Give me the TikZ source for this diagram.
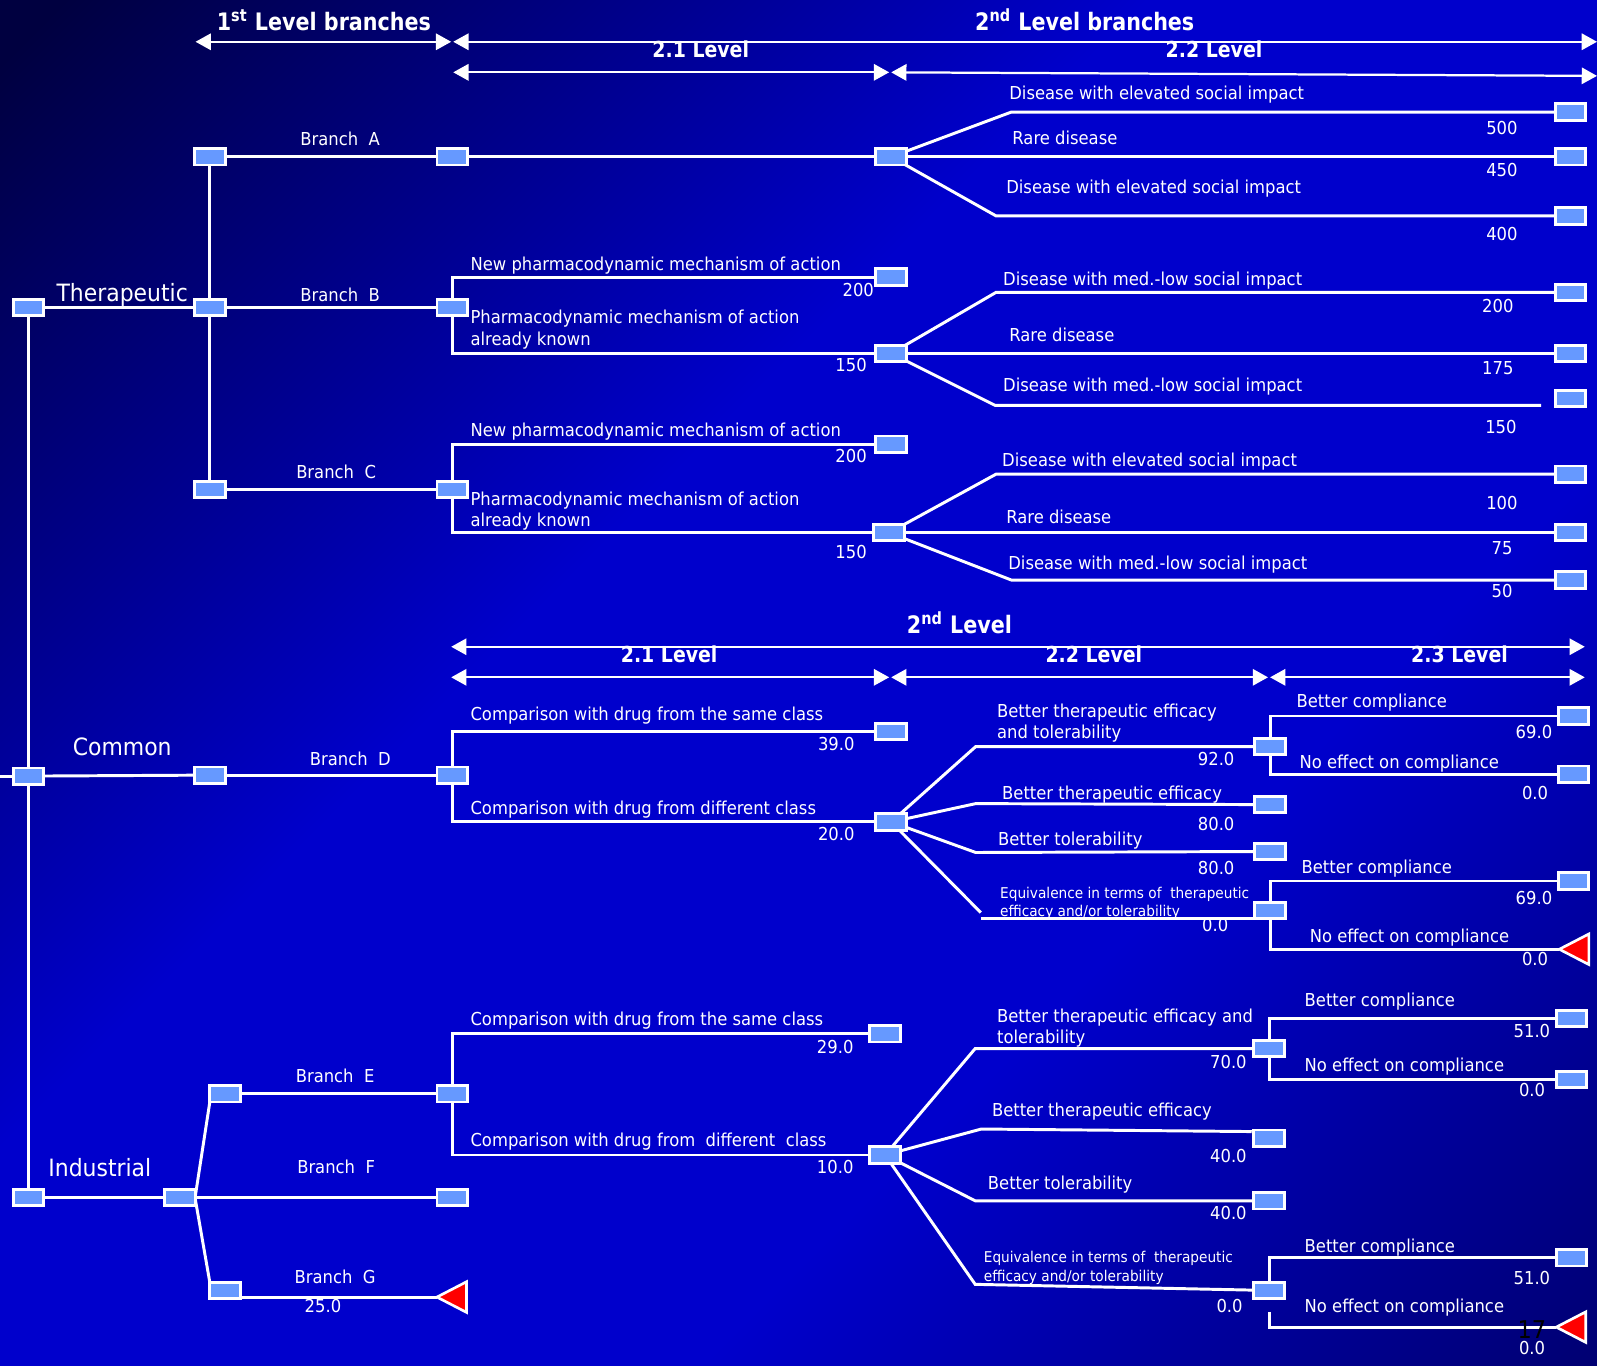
\documentclass[tikz,border=0pt]{standalone}
\usepackage{fontspec}
\setmainfont{DejaVu Sans}[FakeStretch=0.92, BoldFeatures={FakeStretch=0.86}]
\usetikzlibrary{arrows.meta,shapes.geometric,calc}

\definecolor{boxblue}{HTML}{6699FF}
\definecolor{bgdark}{HTML}{000040}
\definecolor{bgbright}{HTML}{0000CC}
\definecolor{bgend}{HTML}{000070}
\definecolor{endred}{HTML}{FF0000}

% diagonal slide background: dark corner, bright middle band, darker far corner
\pgfdeclarehorizontalshading{slidebg}{100bp}{%
  color(0bp)=(bgdark); color(16bp)=(bgdark); color(42bp)=(bgbright);
  color(64bp)=(bgbright); color(86bp)=(bgend); color(100bp)=(bgend)}

\pgfdeclarelayer{back}
\pgfdeclarelayer{wires}
\pgfsetlayers{back,wires,main}

\tikzset{
  every node/.style={text=white, inner sep=0pt, outer sep=0pt},
  nodebox/.style={draw=white, fill=boxblue, line width=1.4pt,
    minimum width=15pt, minimum height=8pt},
  endmark/.style={isosceles triangle, isosceles triangle stretches,
    shape border rotate=180, fill=endred, draw=white, line width=1.3pt,
    minimum width=15pt, minimum height=14.5pt},
  wire/.style={draw=white, line width=1.45pt},
  rangearrow/.style={draw=white, line width=1.1pt,
    arrows={Triangle[width=8pt,length=7.5pt]-Triangle[width=8pt,length=7.5pt]}},
  lbl/.style={anchor=base west, font=\fontsize{8.75}{10}\selectfont},
  val/.style={anchor=base east, font=\fontsize{8.75}{10}\selectfont},
  ctr/.style={anchor=base, font=\fontsize{8.75}{10}\selectfont},
  smalllbl/.style={anchor=base west, font=\fontsize{7.3}{9}\selectfont},
  rootlbl/.style={anchor=base, font=\fontsize{11.7}{14}\selectfont},
  hdr/.style={anchor=base, font=\bfseries\fontsize{11.8}{14}\selectfont},
  lvl/.style={anchor=base, font=\bfseries\fontsize{10.8}{13}\selectfont},
}

\begin{document}
\begin{tikzpicture}[x=0.5pt,y=-0.5pt]
\useasboundingbox (0,0) rectangle (1568,1341);
\begin{pgfonlayer}{back}
  \shade[shading=slidebg, shading angle=-45] (0,0) rectangle (1568,1341);
\end{pgfonlayer}

% ---------------- level headers ----------------
\node[hdr] (h1) at (318,30) {1\textsuperscript{st} Level branches};
\node[hdr] (h2) at (1065,30) {2\textsuperscript{nd} Level branches};
\node[lvl] (h21) at (688,56) {2.1 Level};
\node[lvl] (h22) at (1192,56) {2.2 Level};
\coordinate (r1a) at (192,41);  \coordinate (r1b) at (443,41);
\coordinate (r2a) at (445,41);  \coordinate (r2b) at (1568,41);
\coordinate (r3a) at (445,71);  \coordinate (r3b) at (873,71);
\coordinate (r4a) at (875,71);  \coordinate (r4b) at (1568,74.5);

\node[hdr] (k0) at (942,622) {2\textsuperscript{nd} Level};
\node[lvl] (k21) at (657,650) {2.1 Level};
\node[lvl] (k22) at (1074,650) {2.2 Level};
\node[lvl] (k23) at (1433,650) {2.3 Level};
\coordinate (s1a) at (443,635);  \coordinate (s1b) at (1556,635);
\coordinate (s2a) at (443,665);  \coordinate (s2b) at (873,665);
\coordinate (s3a) at (875,665);  \coordinate (s3b) at (1245,665);
\coordinate (s4a) at (1247,665); \coordinate (s4b) at (1556,665);

% ---------------- roots ----------------
\node[nodebox] (rT) at (28,302) {};
\node[nodebox] (rC) at (28,762) {};
\node[nodebox] (rI) at (28,1176) {};
\coordinate (stub) at (0,762);
\node[rootlbl] (lT) at (120,296) {Therapeutic};
\node[rootlbl] (lC) at (120,741.5) {Common};
\node[rootlbl] (lI) at (98,1155.5) {Industrial};

% ---------------- therapeutic ----------------
\node[nodebox] (t0) at (206,302) {};
\node[nodebox] (tA) at (206,154) {};
\node[nodebox] (tC) at (206,480.5) {};

% branch A
\node[nodebox] (a1) at (444,154) {};
\node[nodebox] (a2) at (875,154) {};
\node[nodebox] (a3) at (1542,110) {};
\node[nodebox] (a4) at (1542,154) {};
\node[nodebox] (a5) at (1542,212) {};
\coordinate (ka1) at (993,110);
\coordinate (ka3) at (978,212);
\node[ctr] at (334,142.5) {Branch~~A};
\node[lbl] at (991,98) {Disease with elevated social impact};
\node[val] at (1490,132) {500};
\node[lbl] at (994,142) {Rare disease};
\node[val] at (1490,173) {450};
\node[lbl] at (988,190) {Disease with elevated social impact};
\node[val] at (1490,236) {400};

% branch B
\node[nodebox] (b1) at (444,302) {};
\node[nodebox] (b2) at (875,272) {};
\node[nodebox] (b3) at (875,347) {};
\node[nodebox] (b4) at (1542,287) {};
\node[nodebox] (b5) at (1542,347) {};
\node[nodebox] (b6) at (1542,391) {};
\coordinate (kb1) at (978,287);
\coordinate (kb3) at (977,398);
\coordinate (kb3e) at (1513,398);
\node[ctr] at (334,296) {Branch~~B};
\node[lbl] at (462,266) {New pharmacodynamic mechanism of action};
\node[val] at (858,291.5) {200};
\node[lbl] at (462,318) {Pharmacodynamic mechanism of action};
\node[lbl] at (462,339) {already known};
\node[val] at (851,365) {150};
\node[lbl] at (985,280) {Disease with med.-low social impact};
\node[val] at (1486,307) {200};
\node[lbl] at (991,335.5) {Rare disease};
\node[val] at (1486,368) {175};
\node[lbl] at (985,384) {Disease with med.-low social impact};
\node[val] at (1489,425.5) {150};

% branch C
\node[nodebox] (c1) at (444,480.5) {};
\node[nodebox] (c2) at (875,436) {};
\node[nodebox] (c3) at (873,523) {};
\node[nodebox] (c4) at (1542,465.5) {};
\node[nodebox] (c5) at (1542,523) {};
\node[nodebox] (c6) at (1542,569.5) {};
\coordinate (kc1) at (978,465.5);
\coordinate (kc3) at (993,569.5);
\node[ctr] at (330,469.5) {Branch~~C};
\node[lbl] at (462,429) {New pharmacodynamic mechanism of action};
\node[val] at (851,454.5) {200};
\node[lbl] at (462,496) {Pharmacodynamic mechanism of action};
\node[lbl] at (462,517) {already known};
\node[val] at (851,548) {150};
\node[lbl] at (984,458.5) {Disease with elevated social impact};
\node[val] at (1490,500) {100};
\node[lbl] at (988,514) {Rare disease};
\node[val] at (1485,544) {75};
\node[lbl] at (990,559) {Disease with med.-low social impact};
\node[val] at (1485,587) {50};

% ---------------- common ----------------
\node[nodebox] (d0) at (206,761) {};
\node[nodebox] (d1) at (444,761) {};
\node[nodebox] (d2) at (875,718) {};
\node[nodebox] (d3) at (875,807) {};
\node[nodebox] (d4) at (1247,733) {};
\node[nodebox] (d5) at (1247,790) {};
\node[nodebox] (d6) at (1247,836) {};
\node[nodebox] (d7) at (1247,894) {};
\node[nodebox] (d8) at (1545,703) {};
\node[nodebox] (d9) at (1545,760) {};
\node[nodebox] (d10) at (1545,865) {};
\node[endmark, anchor=apex] (dT) at (1531,932) {};
\coordinate (kd1) at (958,733);
\coordinate (kd2) at (958,789);
\coordinate (kd3) at (958,837);
\coordinate (kd4) at (963,896);
\coordinate (kd4b) at (963,902);
\node[ctr] at (344,752) {Branch~~D};
\node[lbl] at (462,707) {Comparison with drug from the same class};
\node[val] at (839,736.5) {39.0};
\node[lbl] at (462,800) {Comparison with drug from different class};
\node[val] at (839,825.5) {20.0};
\node[lbl] at (979,704) {Better therapeutic efficacy};
\node[lbl] at (979,725) {and tolerability};
\node[val] at (1212,752) {92.0};
\node[lbl] at (984,785) {Better therapeutic efficacy};
\node[val] at (1212,815) {80.0};
\node[lbl] at (980,830) {Better tolerability};
\node[val] at (1212,859) {80.0};
\node[smalllbl] at (982,882) {Equivalence in terms of~~therapeutic};
\node[smalllbl] at (982,900) {efficacy and/or tolerability};
\node[val] at (1206,915) {0.0};
\node[lbl] at (1273,695) {Better compliance};
\node[val] at (1524,725) {69.0};
\node[lbl] at (1276,755) {No effect on compliance};
\node[val] at (1520,785) {0.0};
\node[lbl] at (1278,858) {Better compliance};
\node[val] at (1524,888) {69.0};
\node[lbl] at (1286,925) {No effect on compliance};
\node[val] at (1520,948) {0.0};

% ---------------- industrial ----------------
\node[nodebox] (i0) at (176.5,1176) {};
\node[nodebox] (iE) at (221,1074) {};
\node[nodebox] (iF) at (444,1176) {};
\node[nodebox] (iG) at (221,1267) {};
\node[endmark, anchor=apex] (gT) at (429,1273.5) {};
\node[ctr] at (329,1063) {Branch~~E};
\node[ctr] at (330,1152) {Branch~~F};
\node[ctr] at (329,1260) {Branch~~G};
\node[val] at (335,1289) {25.0};

\node[nodebox] (e1) at (444,1074) {};
\node[nodebox] (e2) at (869,1015) {};
\node[nodebox] (e3) at (869,1134) {};
\node[nodebox] (e4) at (1246,1029.5) {};
\node[nodebox] (e5) at (1246,1117.5) {};
\node[nodebox] (e6) at (1246,1179) {};
\node[nodebox] (e7) at (1246,1267) {};
\node[nodebox] (e8) at (1543,1000) {};
\node[nodebox] (e9) at (1543,1060) {};
\node[nodebox] (e10) at (1543,1235) {};
\node[endmark, anchor=apex] (eT) at (1528,1303) {};
\coordinate (ke1) at (957.5,1029.5);
\coordinate (ke2) at (963.5,1108.5);
\coordinate (ke2e) at (1229,1111);
\coordinate (ke3) at (957.5,1179);
\coordinate (ke4) at (957.5,1261);
\coordinate (egap) at (1246,1288);
\node[lbl] at (462,1007) {Comparison with drug from the same class};
\node[val] at (838,1034) {29.0};
\node[lbl] at (462,1126) {Comparison with drug from~~different~~class};
\node[val] at (838,1152) {10.0};
\node[lbl] at (979,1004) {Better therapeutic efficacy and};
\node[lbl] at (979,1025) {tolerability};
\node[val] at (1224,1049) {70.0};
\node[lbl] at (974,1096.5) {Better therapeutic efficacy};
\node[val] at (1224,1141) {40.0};
\node[lbl] at (970,1167.5) {Better tolerability};
\node[val] at (1224,1197) {40.0};
\node[smalllbl] at (966,1240) {Equivalence in terms of~~therapeutic};
\node[smalllbl] at (966,1258) {efficacy and/or tolerability};
\node[val] at (1220,1289) {0.0};
\node[lbl] at (1281,988.5) {Better compliance};
\node[val] at (1522,1019) {51.0};
\node[lbl] at (1281,1052) {No effect on compliance};
\node[val] at (1517,1077) {0.0};
\node[lbl] at (1281,1230) {Better compliance};
\node[val] at (1522,1261) {51.0};
\node[lbl] at (1281,1289) {No effect on compliance};
\node[val] at (1517,1330) {0.0};

% slide number
\node[anchor=base west, text=black, font=\fontsize{12}{14}\selectfont] (pg) at (1490,1314) {17};

% ---------------- connectors ----------------
\begin{pgfonlayer}{wires}
  \draw[rangearrow] (r1a) -- (r1b);
  \draw[rangearrow] (r2a) -- (r2b);
  \draw[rangearrow] (r3a) -- (r3b);
  \draw[rangearrow] (r4a) -- (r4b);
  \draw[rangearrow] (s1a) -- (s1b);
  \draw[rangearrow] (s2a) -- (s2b);
  \draw[rangearrow] (s3a) -- (s3b);
  \draw[rangearrow] (s4a) -- (s4b);

  \draw[wire] (rT.center) -- (rI.center);
  \draw[wire] (stub) -- (rC.center);
  \draw[wire] (rT.center) -- (t0.center);
  \draw[wire] (rC.center) -- (d0.center);
  \draw[wire] (rI.center) -- (i0.center);

  % therapeutic
  \draw[wire] (tA.center) -- (tC.center);
  \draw[wire] (tA.center) -- (a1.center) -- (a2.center);
  \draw[wire] (a2.center) -- (ka1) -- (a3.center);
  \draw[wire] (a2.center) -- (a4.center);
  \draw[wire] (a2.center) -- (ka3) -- (a5.center);

  \draw[wire] (t0.center) -- (b1.center);
  \draw[wire] (b2.center) -| (b1.center);
  \draw[wire] (b3.center) -| (b1.center);
  \draw[wire] (b3.center) -- (kb1) -- (b4.center);
  \draw[wire] (b3.center) -- (b5.center);
  \draw[wire] (b3.center) -- (kb3) -- (kb3e);

  \draw[wire] (tC.center) -- (c1.center);
  \draw[wire] (c2.center) -| (c1.center);
  \draw[wire] (c3.center) -| (c1.center);
  \draw[wire] (c3.center) -- (kc1) -- (c4.center);
  \draw[wire] (c3.center) -- (c5.center);
  \draw[wire] (c3.center) -- (kc3) -- (c6.center);

  % common
  \draw[wire] (d0.center) -- (d1.center);
  \draw[wire] (d2.center) -| (d1.center);
  \draw[wire] (d3.center) -| (d1.center);
  \draw[wire] (d3.center) -- (kd1) -- (d4.center);
  \draw[wire] (d3.center) -- (kd2) -- (d5.center);
  \draw[wire] (d3.center) -- (kd3) -- (d6.center);
  \draw[wire] (d3.center) -- (kd4);
  \draw[wire] (kd4b) -- (d7.south west);
  \draw[wire] (d8.center) -| (d4.center);
  \draw[wire] (d9.center) -| (d4.center);
  \draw[wire] (d10.center) -| (d7.center);
  \draw[wire] (dT.apex) -| (d7.center);

  % industrial
  \draw[wire] (i0.center) -- (iF.center);
  \draw[wire] (i0.east) -- (iE.south west);
  \draw[wire] (i0.east) -- (iG.north west);
  \draw[wire] (iG.east |- gT.apex) -- (gT.apex);
  \draw[wire] (iE.center) -- (e1.center);
  \draw[wire] (e2.center) -| (e1.center);
  \draw[wire] (e3.center) -| (e1.center);
  \draw[wire] (e3.center) -- (ke1) -- (e4.center);
  \draw[wire] (e3.center) -- (ke2) -- (ke2e);
  \draw[wire] (e3.center) -- (ke3) -- (e6.center);
  \draw[wire] (e3.center) -- (ke4) -- (e7.center);
  \draw[wire] (e8.center) -| (e4.center);
  \draw[wire] (e9.center) -| (e4.center);
  \draw[wire] (e10.center) -| (e7.center);
  \draw[wire] (egap) |- (eT.apex);
\end{pgfonlayer}
\end{tikzpicture}
\end{document}
